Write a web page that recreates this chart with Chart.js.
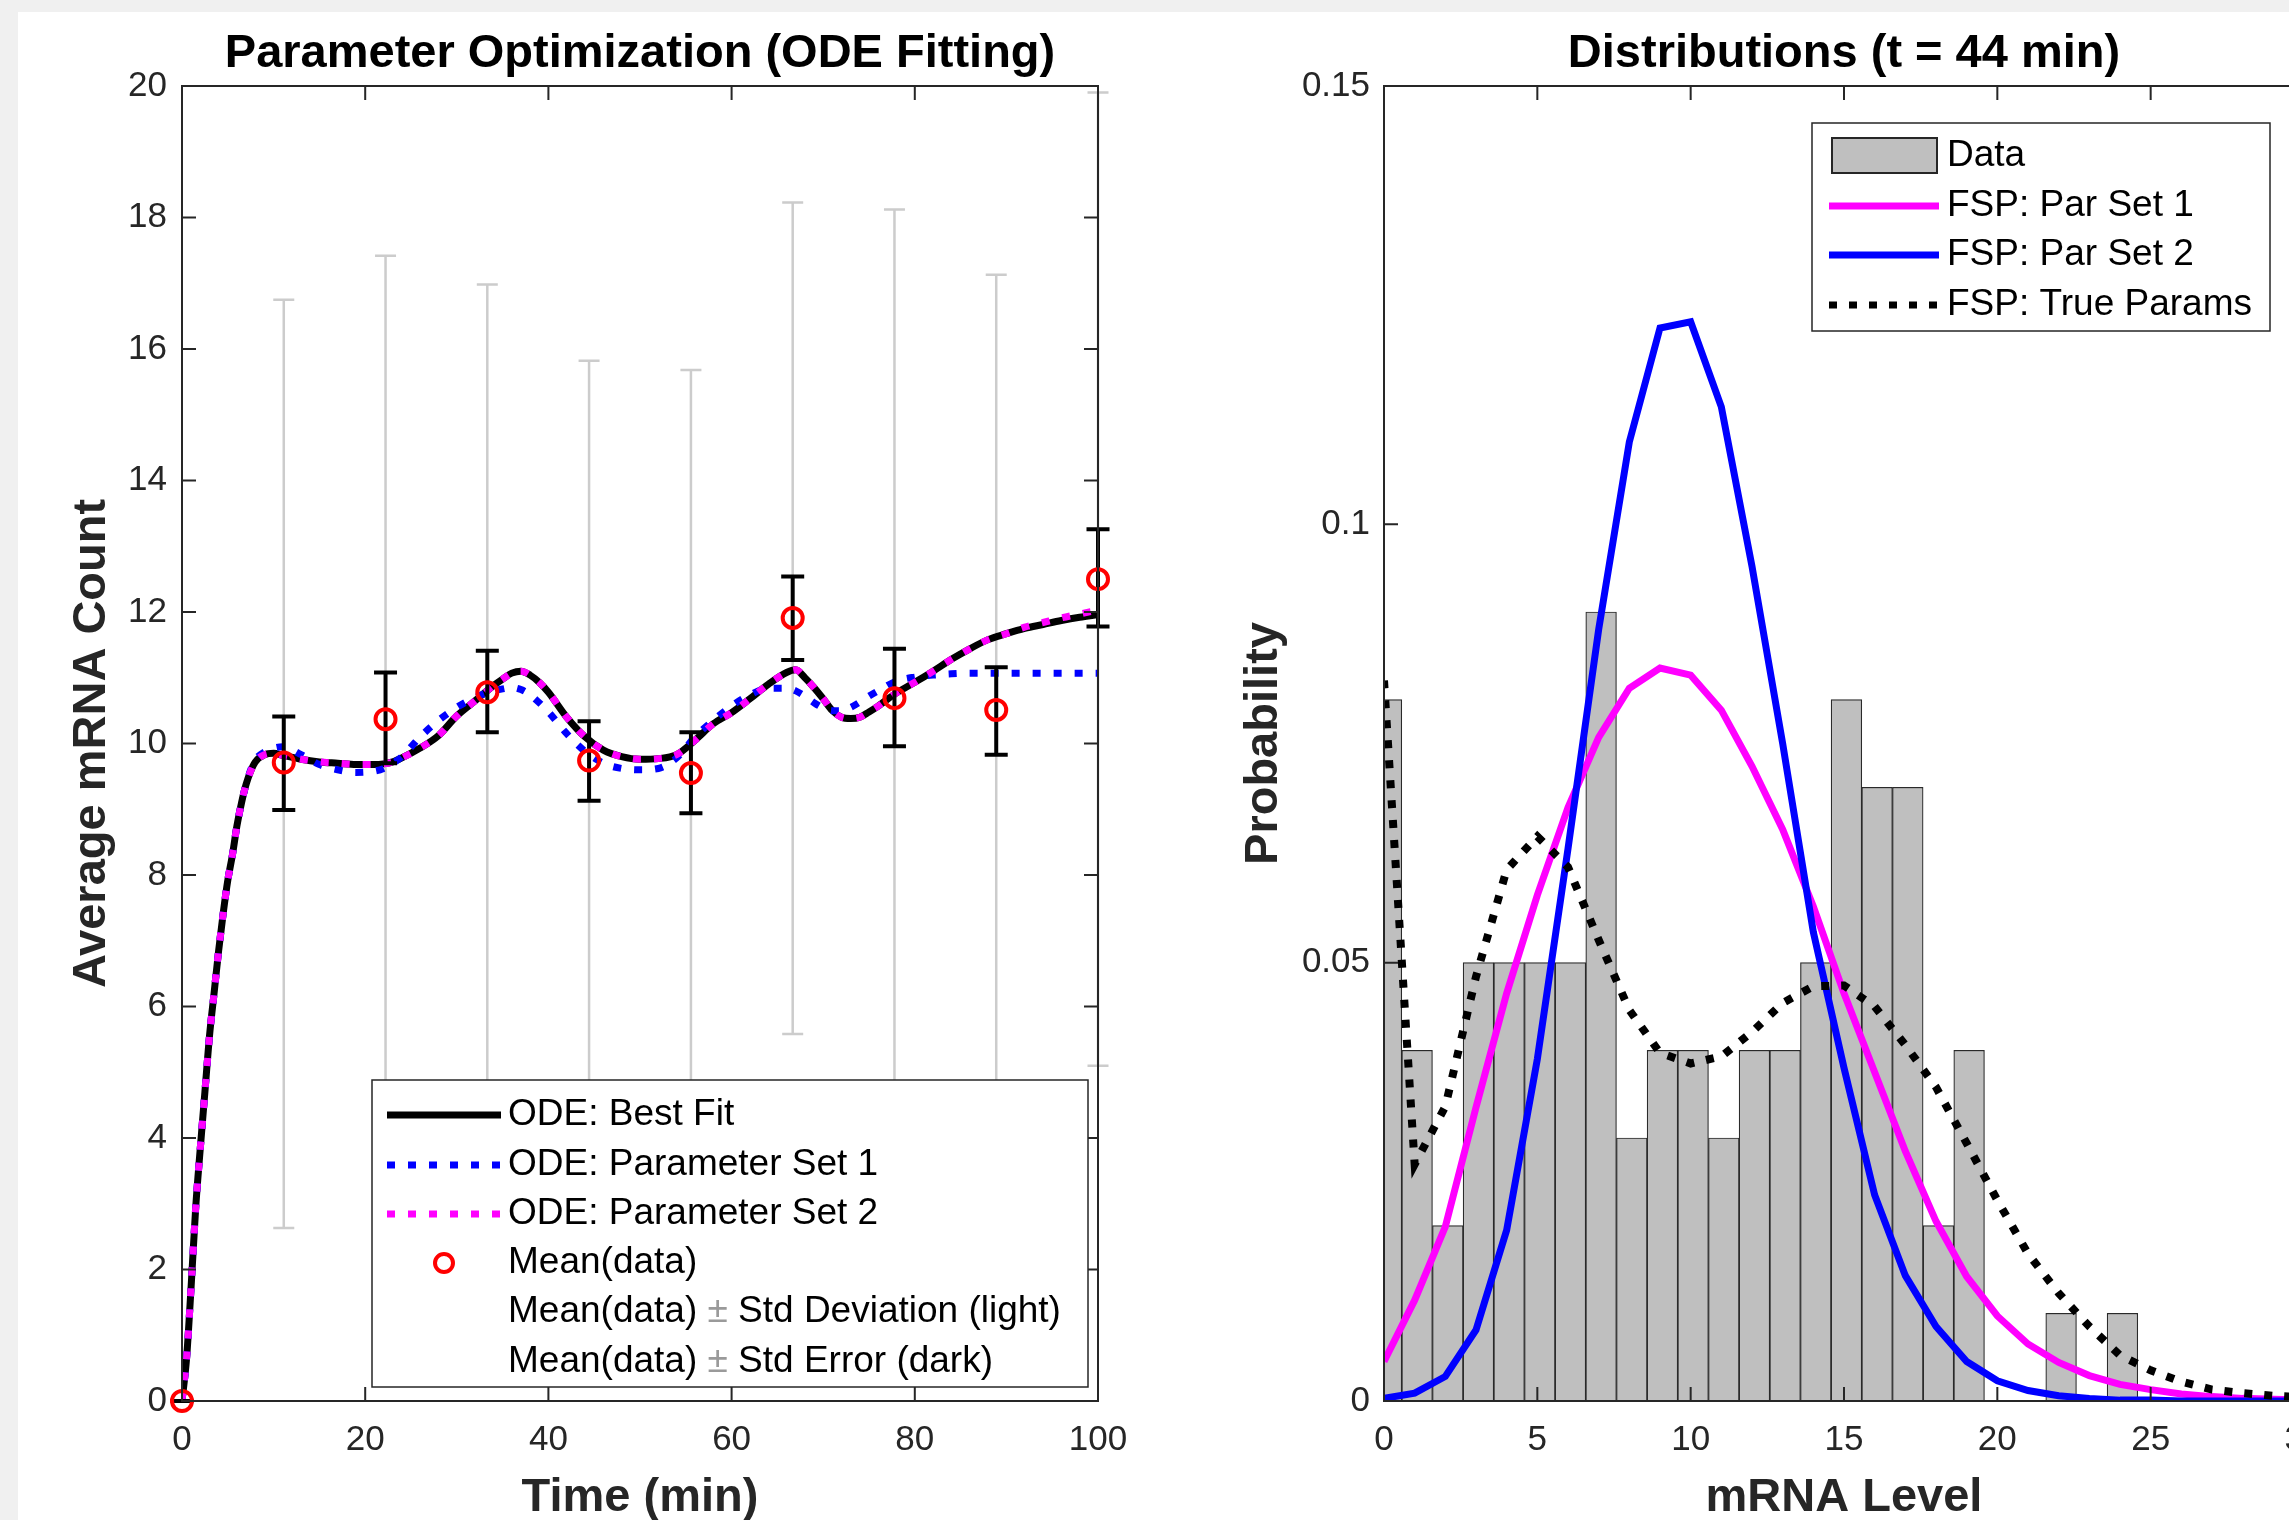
<!DOCTYPE html>
<html><head><meta charset="utf-8">
<script src="https://cdn.jsdelivr.net/npm/chart.js@4.4.1/dist/chart.umd.min.js"></script>
<style>
html,body{margin:0;padding:0;width:2289px;height:1520px;overflow:hidden;background:#f0f0f0;}
#paper{position:absolute;left:18px;top:12px;width:2400px;height:1600px;background:#fff;}
#w1{position:absolute;left:0;top:0;width:1150px;height:1520px;}
#w2{position:absolute;left:1150px;top:0;width:1250px;height:1520px;}
canvas{display:block;}
</style></head>
<body>
<div id="paper"></div>
<div id="w1"><canvas id="c1" width="1150" height="1520"></canvas></div>
<div id="w2"><canvas id="c2" width="1250" height="1520"></canvas></div>
<script>
// ---------------- data: left panel ----------------
const odeTime = [0,0.5,1,1.5,2,2.5,3,3.5,4,4.5,5,5.5,6,6.5,7,7.5,8,9,10,11,13,15,17,19,21,22,23,24,26,28,30,32,34,35,36,37,38,39,40,42,44,46,48,50,52,54,56,58,60,62,64,66,67,68,69,70,71,72,73,74,75,76,78,80,82,84,86,88,90,92,94,96,98,100];
const odeBestFit = [0,0.65,1.75,2.95,3.85,4.7,5.55,6.2,6.85,7.42,7.92,8.3,8.75,9.1,9.38,9.58,9.72,9.83,9.85,9.82,9.76,9.72,9.7,9.68,9.68,9.69,9.72,9.78,9.93,10.12,10.42,10.65,10.88,10.98,11.07,11.1,11.04,10.93,10.78,10.4,10.1,9.9,9.8,9.76,9.77,9.83,10.05,10.3,10.47,10.68,10.9,11.08,11.12,11.0,10.85,10.68,10.5,10.4,10.38,10.4,10.48,10.57,10.77,10.93,11.1,11.28,11.44,11.58,11.67,11.75,11.81,11.87,11.92,11.96];
const odeParSet1 = [0,0.65,1.75,2.95,3.85,4.7,5.55,6.2,6.85,7.42,7.92,8.3,8.75,9.1,9.38,9.6,9.75,9.87,9.93,9.95,9.83,9.68,9.6,9.56,9.58,9.62,9.7,9.8,10.1,10.35,10.55,10.7,10.8,10.83,10.85,10.82,10.74,10.62,10.48,10.15,9.88,9.7,9.62,9.6,9.62,9.78,10.1,10.35,10.57,10.74,10.84,10.84,10.8,10.72,10.62,10.54,10.5,10.5,10.55,10.63,10.72,10.8,10.95,11.01,11.04,11.06,11.07,11.07,11.07,11.07,11.07,11.07,11.07,11.07];
const odeParSet2 = [0,0.65,1.75,2.95,3.85,4.7,5.55,6.2,6.85,7.42,7.92,8.3,8.75,9.1,9.38,9.58,9.72,9.83,9.85,9.82,9.76,9.72,9.7,9.68,9.68,9.69,9.72,9.78,9.93,10.12,10.42,10.65,10.88,10.98,11.07,11.1,11.04,10.93,10.78,10.4,10.1,9.9,9.8,9.76,9.77,9.83,10.05,10.3,10.47,10.68,10.9,11.08,11.12,11.0,10.85,10.68,10.5,10.4,10.38,10.4,10.48,10.57,10.77,10.93,11.1,11.28,11.44,11.58,11.67,11.77,11.84,11.91,11.97,12.03];
const sampleTime = [0,11.11,22.22,33.33,44.44,55.56,66.67,77.78,88.89,100];
const sampleMean = [0,9.71,10.37,10.78,9.74,9.55,11.91,10.69,10.51,12.50];
const sdLow  = [0,2.63,3.32,4.58,3.66,3.42,5.58,3.26,3.89,5.10];
const sdHigh = [0,16.75,17.42,16.98,15.82,15.68,18.23,18.12,17.13,19.90];
const seLow  = [0,8.99,9.70,10.17,9.13,8.94,11.27,9.96,9.83,11.78];
const seHigh = [0,10.41,11.08,11.41,10.34,10.17,12.54,11.44,11.16,13.26];
const leftXTicks = [0,20,40,60,80,100];
const leftYTicks = [0,2,4,6,8,10,12,14,16,18,20];
const leftLegendLabels = ['ODE: Best Fit','ODE: Parameter Set 1','ODE: Parameter Set 2','Mean(data)','Mean(data) \u00b1 Std Deviation (light)','Mean(data) \u00b1 Std Error (dark)'];

// ---------------- data: right panel ----------------
const histCenters = [0.08,1.08,2.08,3.08,4.08,5.08,6.08,7.08,8.08,9.08,10.08,11.08,12.08,13.08,14.08,15.08,16.08,17.08,18.08,19.08,20.08,21.08,22.08,23.08,24.08];
const histProb = [0.08,0.04,0.02,0.05,0.05,0.05,0.05,0.09,0.03,0.04,0.04,0.03,0.04,0.04,0.05,0.08,0.07,0.07,0.02,0.04,0,0,0.01,0,0.01];
const mrnaLevels = [0,1,2,3,4,5,6,7,8,9,10,11,12,13,14,15,16,17,18,19,20,21,22,23,24,25,26,27,28,29,30];
const fspParSet1 = [0.0045,0.0115,0.0199,0.0335,0.0465,0.0577,0.0677,0.0757,0.0813,0.0836,0.0828,0.0788,0.0724,0.0652,0.0564,0.0465,0.0375,0.0285,0.0205,0.0142,0.0097,0.0065,0.0044,0.0029,0.0019,0.0013,0.0008,0.0005,0.0003,0.0002,0.0001];
const fspParSet2 = [0.0003,0.0009,0.0028,0.0081,0.0195,0.039,0.063,0.088,0.1094,0.1224,0.1231,0.1134,0.0952,0.075,0.0535,0.038,0.0235,0.0143,0.0085,0.0045,0.0023,0.0012,0.0006,0.0003,0.0001,0.0001,0,0,0,0,0];
const fspTrue = [0.0822,0.027,0.0336,0.0484,0.0606,0.0644,0.0609,0.0526,0.0446,0.0397,0.0385,0.0393,0.0421,0.0454,0.0473,0.0474,0.045,0.0406,0.0358,0.0294,0.0229,0.0168,0.0123,0.0085,0.0052,0.0035,0.0022,0.0013,0.0009,0.0006,0.0004];
const rightXTicks = [0,5,10,15,20,25,30];
const rightYTicks = [0,0.05,0.1,0.15];
const rightYTickLabels = ['0','0.05','0.1','0.15'];
const rightLegendLabels = ['Data','FSP: Par Set 1','FSP: Par Set 2','FSP: True Params'];

// ---------------- shared styling ----------------
const FONT = '"Liberation Sans", Arial, Helvetica, sans-serif';
const AXC = '#262626';
const zip = (xs, ys) => xs.map((x, i) => ({x, y: ys[i]}));

const boxTicks = {
  id: 'boxTicks',
  afterDatasetsDraw(chart) {
    const {ctx, chartArea: a, scales: {x, y}} = chart;
    ctx.save();
    ctx.strokeStyle = AXC; ctx.lineWidth = 2;
    ctx.strokeRect(a.left, a.top, a.right - a.left, a.bottom - a.top);
    const L = 14;
    ctx.beginPath();
    x.ticks.forEach(t => {
      const p = x.getPixelForValue(t.value);
      ctx.moveTo(p, a.bottom); ctx.lineTo(p, a.bottom - L);
      ctx.moveTo(p, a.top); ctx.lineTo(p, a.top + L);
    });
    y.ticks.forEach(t => {
      const p = y.getPixelForValue(t.value);
      ctx.moveTo(a.left, p); ctx.lineTo(a.left + L, p);
      ctx.moveTo(a.right, p); ctx.lineTo(a.right - L, p);
    });
    ctx.stroke();
    ctx.restore();
  }
};
const panelTitle = {
  id: 'panelTitle',
  afterDraw(chart, args, opts) {
    const {ctx, chartArea: a} = chart;
    ctx.save();
    ctx.font = 'bold 47px ' + FONT;
    ctx.fillStyle = '#000';
    ctx.textAlign = 'center'; ctx.textBaseline = 'middle';
    ctx.fillText(opts.text, (a.left + a.right) / 2, a.top - 32);
    ctx.restore();
  }
};

function errBar(ctx, xs, ys, xv, lo, hi, half) {
  const px = xs.getPixelForValue(xv), p1 = ys.getPixelForValue(lo), p2 = ys.getPixelForValue(hi);
  ctx.beginPath();
  ctx.moveTo(px, p1); ctx.lineTo(px, p2);
  ctx.moveTo(px - half, p1); ctx.lineTo(px + half, p1);
  ctx.moveTo(px - half, p2); ctx.lineTo(px + half, p2);
  ctx.stroke();
}
const errorBars = {
  id: 'errorBars',
  beforeDatasetsDraw(chart) {
    const {ctx, scales: {x, y}} = chart;
    ctx.save(); ctx.strokeStyle = '#cccccc'; ctx.lineWidth = 2.5;
    sampleTime.forEach((t, i) => errBar(ctx, x, y, t, sdLow[i], sdHigh[i], 10.5));
    ctx.restore();
  },
  beforeDatasetDraw(chart, args) {
    if (args.meta.label !== 'Mean(data)') return;
    const {ctx, scales: {x, y}} = chart;
    ctx.save(); ctx.strokeStyle = '#000'; ctx.lineWidth = 4;
    sampleTime.forEach((t, i) => errBar(ctx, x, y, t, seLow[i], seHigh[i], 11.5));
    ctx.restore();
  }
};

const leftLegend = {
  id: 'leftLegend',
  afterDraw(chart) {
    const {ctx, chartArea: a} = chart;
    const w = 716, h = 307;
    const bx = a.right - 10 - w, by = a.bottom - 14 - h;
    ctx.save();
    ctx.fillStyle = '#fff'; ctx.fillRect(bx, by, w, h);
    ctx.strokeStyle = AXC; ctx.lineWidth = 1.5; ctx.strokeRect(bx, by, w, h);
    const rows = [35, 85, 134, 183, 232, 282];
    const x1 = bx + 15, x2 = bx + 129, tx = bx + 136;
    const line = (i, color, dash) => {
      ctx.beginPath(); ctx.setLineDash(dash); ctx.strokeStyle = color; ctx.lineWidth = 7;
      ctx.moveTo(x1, by + rows[i]); ctx.lineTo(x2, by + rows[i]); ctx.stroke(); ctx.setLineDash([]);
    };
    line(0, '#000', []);
    line(1, '#0000ff', [8, 13]);
    line(2, '#ff00ff', [8, 13]);
    ctx.beginPath(); ctx.strokeStyle = '#ff0000'; ctx.lineWidth = 4;
    ctx.arc(bx + 72, by + rows[3], 9, 0, Math.PI * 2); ctx.stroke();
    ctx.font = '37px ' + FONT; ctx.textBaseline = 'middle'; ctx.textAlign = 'left';
    leftLegendLabels.forEach((lab, i) => {
      const parts = lab.split('\u00b1');
      let xx = tx;
      parts.forEach((p, k) => {
        ctx.fillStyle = '#000'; ctx.fillText(p, xx, by + rows[i]); xx += ctx.measureText(p).width;
        if (k < parts.length - 1) { ctx.fillStyle = '#9a9a9a'; ctx.fillText('\u00b1', xx, by + rows[i]); xx += ctx.measureText('\u00b1').width; }
      });
    });
    ctx.restore();
  }
};

const rightLegend = {
  id: 'rightLegend',
  afterDraw(chart) {
    const {ctx, chartArea: a} = chart;
    const w = 458, h = 208;
    const bx = a.right - 34 - w, by = a.top + 37;
    ctx.save();
    ctx.fillStyle = '#fff'; ctx.fillRect(bx, by, w, h);
    ctx.strokeStyle = AXC; ctx.lineWidth = 1.5; ctx.strokeRect(bx, by, w, h);
    const rows = [33, 83, 132, 182];
    ctx.fillStyle = '#bfbfbf'; ctx.fillRect(bx + 20, by + rows[0] - 18, 105, 35);
    ctx.strokeStyle = '#262626'; ctx.lineWidth = 2; ctx.strokeRect(bx + 20, by + rows[0] - 18, 105, 35);
    const line = (i, color, dash) => {
      ctx.beginPath(); ctx.setLineDash(dash); ctx.strokeStyle = color; ctx.lineWidth = 7;
      ctx.moveTo(bx + 17, by + rows[i]); ctx.lineTo(bx + 127, by + rows[i]); ctx.stroke(); ctx.setLineDash([]);
    };
    line(1, '#ff00ff', []);
    line(2, '#0000ff', []);
    line(3, '#000', [8, 12]);
    ctx.font = '37px ' + FONT; ctx.textBaseline = 'middle'; ctx.textAlign = 'left'; ctx.fillStyle = '#000';
    rightLegendLabels.forEach((lab, i) => ctx.fillText(lab, bx + 135, by + rows[i]));
    ctx.restore();
  }
};

const tickFont = {family: FONT, size: 35};
const axisTitleFont = {family: FONT, size: 47, weight: 'bold', lineHeight: 1};

// ---------------- left chart ----------------
new Chart(document.getElementById('c1'), {
  type: 'line',
  data: {
    datasets: [
      {label: 'Mean(data)', data: zip(sampleTime, sampleMean), showLine: false, pointStyle: 'circle',
       pointRadius: 10, pointBorderWidth: 4, pointBorderColor: '#ff0000', pointBackgroundColor: 'rgba(0,0,0,0)', order: 0, clip: false},
      {label: 'ODE: Parameter Set 2', data: zip(odeTime, odeParSet2), borderColor: '#ff00ff', borderWidth: 7, borderDash: [8, 13],
       pointRadius: 0, cubicInterpolationMode: 'monotone', order: 1},
      {label: 'ODE: Parameter Set 1', data: zip(odeTime, odeParSet1), borderColor: '#0000ff', borderWidth: 7, borderDash: [8, 13],
       pointRadius: 0, cubicInterpolationMode: 'monotone', order: 2},
      {label: 'ODE: Best Fit', data: zip(odeTime, odeBestFit), borderColor: '#000000', borderWidth: 7,
       pointRadius: 0, cubicInterpolationMode: 'monotone', order: 3}
    ]
  },
  options: {
    responsive: false, animation: false, events: [],
    layout: {padding: {left: 0, top: 86, right: 52, bottom: 0}},
    plugins: {legend: {display: false}, tooltip: {enabled: false}, panelTitle: {text: 'Parameter Optimization (ODE Fitting)'}},
    scales: {
      x: {type: 'linear', min: 0, max: 100, grid: {display: false, drawTicks: false}, border: {display: false},
          afterBuildTicks: s => { s.ticks = leftXTicks.map(v => ({value: v})); },
          afterFit: s => { s.height = 119; },
          ticks: {font: tickFont, color: AXC, padding: 18, maxRotation: 0, autoSkip: false, callback: v => String(v)},
          title: {display: true, text: 'Time (min)', font: axisTitleFont, color: AXC, padding: {top: 0, bottom: -2}}},
      y: {type: 'linear', min: 0, max: 20, grid: {display: false, drawTicks: false}, border: {display: false},
          afterBuildTicks: s => { s.ticks = leftYTicks.map(v => ({value: v})); },
          afterFit: s => { s.width = 182; },
          ticks: {font: tickFont, color: AXC, padding: 15, autoSkip: false, callback: v => String(v)},
          title: {display: true, text: 'Average mRNA Count', font: axisTitleFont, color: AXC, padding: {top: 69, bottom: 0}}}
    }
  },
  plugins: [errorBars, boxTicks, panelTitle, leftLegend]
});

// ---------------- right chart ----------------
new Chart(document.getElementById('c2'), {
  type: 'line',
  data: {
    datasets: [
      {label: 'FSP: True Params', data: zip(mrnaLevels, fspTrue), borderColor: '#000', borderWidth: 8, borderDash: [8, 12],
       pointRadius: 0, tension: 0, order: 1},
      {label: 'FSP: Par Set 2', data: zip(mrnaLevels, fspParSet2), borderColor: '#0000ff', borderWidth: 7,
       pointRadius: 0, tension: 0, order: 2},
      {label: 'FSP: Par Set 1', data: zip(mrnaLevels, fspParSet1), borderColor: '#ff00ff', borderWidth: 7,
       pointRadius: 0, tension: 0, order: 3},
      {type: 'bar', label: 'Data', data: zip(histCenters, histProb), backgroundColor: '#bfbfbf', borderColor: '#2a2a2a',
       borderWidth: 1.2, barPercentage: 1, categoryPercentage: 1, order: 4}
    ]
  },
  options: {
    responsive: false, animation: false, events: [],
    layout: {padding: {left: 0, top: 86, right: 96, bottom: 0}},
    plugins: {legend: {display: false}, tooltip: {enabled: false}, panelTitle: {text: 'Distributions (t = 44 min)'}},
    scales: {
      x: {type: 'linear', min: 0, max: 30, offset: false, grid: {display: false, drawTicks: false}, border: {display: false},
          afterBuildTicks: s => { s.ticks = rightXTicks.map(v => ({value: v})); },
          afterFit: s => { s.height = 119; },
          ticks: {font: tickFont, color: AXC, padding: 18, maxRotation: 0, autoSkip: false, callback: v => String(v)},
          title: {display: true, text: 'mRNA Level', font: axisTitleFont, color: AXC, padding: {top: 0, bottom: -2}}},
      y: {type: 'linear', min: 0, max: 0.15, grid: {display: false, drawTicks: false}, border: {display: false},
          afterBuildTicks: s => { s.ticks = rightYTicks.map(v => ({value: v})); },
          afterFit: s => { s.width = 234; },
          ticks: {font: tickFont, color: AXC, padding: 14, autoSkip: false, callback: (v, i) => rightYTickLabels[i]},
          title: {display: true, text: 'Probability', font: axisTitleFont, color: AXC, padding: {top: 91, bottom: 0}}}
    }
  },
  plugins: [boxTicks, panelTitle, rightLegend]
});
</script>
</body></html>
